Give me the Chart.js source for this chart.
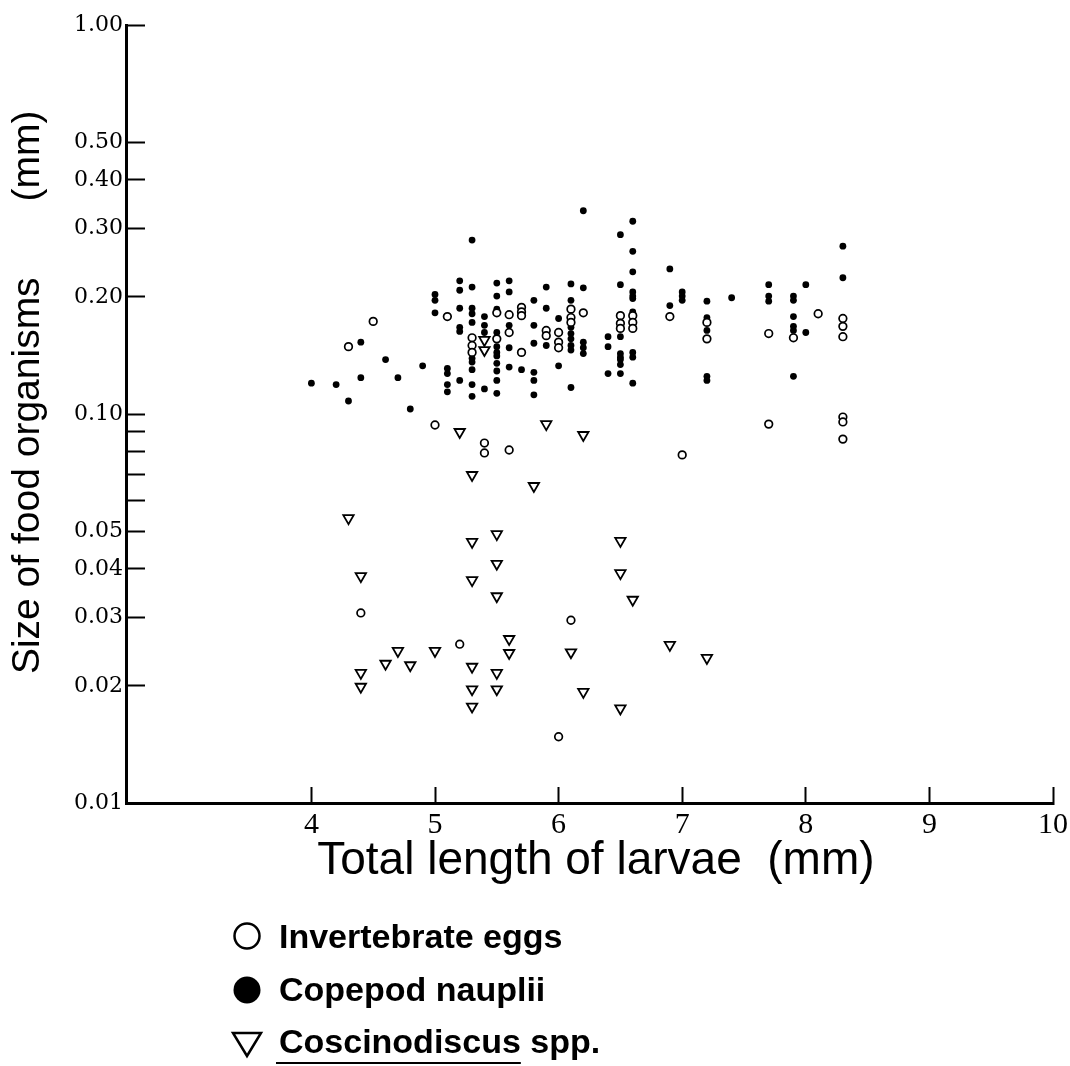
<!DOCTYPE html>
<html>
<head>
<meta charset="utf-8">
<script src="https://cdn.jsdelivr.net/npm/chart.js@4.4.1/dist/chart.umd.min.js"></script>
<style>
	html, body { margin: 0; padding: 0; background: #fff; }
	canvas { display: block; }
</style>
</head>
<body>
<canvas id="food-size-chart" width="1070" height="1066"></canvas>
<script>
/*jshint esversion: 6 */

// x = total length of larvae (mm), y = size of food organism (mm)
const eggsX = [
	4.3, 4.4, 4.5, 5.0, 5.1, 5.2,
	5.3, 5.3, 5.3, 5.4, 5.4, 5.5, 5.5,
	5.6, 5.6, 5.6, 5.7, 5.7, 5.7, 5.7,
	5.9, 5.9, 6.0, 6.0, 6.0, 6.0,
	6.1, 6.1, 6.1, 6.1, 6.2,
	6.5, 6.5, 6.5, 6.6, 6.6, 6.6,
	6.9, 7.0, 7.2, 7.2, 7.7, 7.7, 7.9, 8.1,
	8.3, 8.3, 8.3, 8.3, 8.3, 8.3
];
const eggsY = [
	0.149, 0.0308, 0.173, 0.0937, 0.178, 0.0256,
	0.157, 0.150, 0.144, 0.0842, 0.0794, 0.182, 0.156,
	0.180, 0.162, 0.0808, 0.188, 0.183, 0.179, 0.144,
	0.164, 0.159, 0.162, 0.153, 0.148, 0.0148,
	0.186, 0.177, 0.172, 0.0295, 0.182,
	0.179, 0.171, 0.166, 0.179, 0.172, 0.166,
	0.178, 0.0785, 0.172, 0.156, 0.161, 0.0942, 0.157, 0.181,
	0.176, 0.168, 0.158, 0.0982, 0.0954, 0.0862
];

const naupliiX = [
	4.0, 4.2, 4.3, 4.4, 4.4, 4.6, 4.7, 4.8, 4.9,
	5.0, 5.0, 5.0,
	5.1, 5.1, 5.1, 5.1,
	5.2, 5.2, 5.2, 5.2, 5.2, 5.2,
	5.3, 5.3, 5.3, 5.3, 5.3, 5.3, 5.3, 5.3, 5.3, 5.3,
	5.4, 5.4, 5.4, 5.4,
	5.5, 5.5, 5.5, 5.5, 5.5, 5.5, 5.5, 5.5, 5.5, 5.5, 5.5,
	5.6, 5.6, 5.6, 5.6, 5.6,
	5.7,
	5.8, 5.8, 5.8, 5.8, 5.8, 5.8,
	5.9, 5.9, 5.9,
	6.0, 6.0,
	6.1, 6.1, 6.1, 6.1, 6.1, 6.1, 6.1, 6.1,
	6.2, 6.2, 6.2, 6.2, 6.2,
	6.4, 6.4, 6.4,
	6.5, 6.5, 6.5, 6.5, 6.5, 6.5, 6.5, 6.5,
	6.6, 6.6, 6.6, 6.6, 6.6, 6.6, 6.6, 6.6, 6.6, 6.6,
	6.9, 6.9,
	7.0, 7.0, 7.0,
	7.2, 7.2, 7.2, 7.2, 7.2, 7.2,
	7.4,
	7.7, 7.7, 7.7,
	7.9, 7.9, 7.9, 7.9, 7.9, 7.9,
	8.0, 8.0,
	8.3, 8.3
];
const naupliiY = [
	0.120, 0.119, 0.108, 0.153, 0.124, 0.138, 0.124, 0.103, 0.133,
	0.203, 0.196, 0.182,
	0.131, 0.127, 0.119, 0.114,
	0.220, 0.208, 0.187, 0.167, 0.163, 0.122,
	0.280, 0.212, 0.187, 0.181, 0.172, 0.139, 0.136, 0.130, 0.119, 0.111,
	0.178, 0.169, 0.162, 0.116,
	0.217, 0.201, 0.186, 0.162, 0.149, 0.144, 0.141, 0.135, 0.129, 0.122, 0.113,
	0.220, 0.206, 0.169, 0.148, 0.132,
	0.130,
	0.196, 0.169, 0.152, 0.128, 0.122, 0.112,
	0.212, 0.187, 0.150,
	0.176, 0.133,
	0.216, 0.196, 0.167, 0.161, 0.156, 0.150, 0.146, 0.117,
	0.333, 0.211, 0.153, 0.148, 0.143,
	0.158, 0.149, 0.127,
	0.289, 0.215, 0.158, 0.143, 0.140, 0.138, 0.134, 0.127,
	0.313, 0.262, 0.232, 0.206, 0.201, 0.198, 0.183, 0.144, 0.140, 0.120,
	0.236, 0.190,
	0.206, 0.201, 0.196,
	0.195, 0.177, 0.172, 0.164, 0.125, 0.122,
	0.199,
	0.215, 0.201, 0.195,
	0.201, 0.196, 0.178, 0.168, 0.164, 0.125,
	0.215, 0.162,
	0.270, 0.224
];

const coscX = [
	4.3, 4.4, 4.4, 4.4, 4.6, 4.7, 4.8, 5.0, 5.2,
	5.3, 5.3, 5.3, 5.3, 5.3, 5.3,
	5.4, 5.4,
	5.5, 5.5, 5.5, 5.5, 5.5,
	5.6, 5.6, 5.8, 5.9, 6.1, 6.2, 6.2,
	6.5, 6.5, 6.5, 6.6, 6.9, 7.2
];
const coscY = [
	0.054, 0.0383, 0.0216, 0.0199, 0.0228, 0.0246, 0.0226, 0.0246, 0.0899,
	0.0697, 0.0469, 0.0374, 0.0224, 0.0196, 0.0177,
	0.155, 0.146,
	0.0491, 0.0412, 0.0340, 0.0216, 0.0196,
	0.0264, 0.0243, 0.0653, 0.0942, 0.0244, 0.0883, 0.0193,
	0.0472, 0.0390, 0.0175, 0.0333, 0.0255, 0.0236
];

const seriesLabels = [ 'Invertebrate eggs', 'Copepod nauplii', 'Coscinodiscus spp.' ];

const xTicks = [ 4, 5, 6, 7, 8, 9, 10 ];
const yTicks = [ 0.01, 0.02, 0.03, 0.04, 0.05, 0.06, 0.07, 0.08, 0.09, 0.10, 0.20, 0.30, 0.40, 0.50, 1.00 ];
const yTickLabels = [ '0.01', '0.02', '0.03', '0.04', '0.05', '', '', '', '', '0.10', '0.20', '0.30', '0.40', '0.50', '1.00' ];

const toPoints = ( xs, ys ) => xs.map( ( x, i ) => ( { x: x, y: ys[ i ] } ) );

// legend stacked under the x title, one row per series
const stackedLegend = {
	id: 'stackedLegend',
	afterDraw: ( chart ) => {
		const ctx = chart.ctx;
		const markerX = 247;
		const textX = 279;
		const markerY = [ 936, 990, 1044 ];
		const textY = [ 948, 1001, 1053 ];
		ctx.save();
		ctx.fillStyle = '#000';
		ctx.strokeStyle = '#000';
		ctx.font = 'bold 34px "Liberation Sans", Arial, sans-serif';
		ctx.textAlign = 'left';
		ctx.textBaseline = 'alphabetic';
		chart.data.datasets.forEach( ( ds, i ) => {
			const my = markerY[ i ];
			ctx.beginPath();
			if ( ds.pointStyle === 'triangle' ) {
				ctx.lineWidth = 2.5;
				ctx.moveTo( markerX - 14, my - 11 );
				ctx.lineTo( markerX + 14, my - 11 );
				ctx.lineTo( markerX, my + 12 );
				ctx.closePath();
				ctx.stroke();
			} else if ( ds.pointBackgroundColor === '#000' ) {
				ctx.arc( markerX, my, 13.5, 0, Math.PI * 2 );
				ctx.fill();
			} else {
				ctx.lineWidth = 2.5;
				ctx.arc( markerX, my, 12.5, 0, Math.PI * 2 );
				ctx.stroke();
			}
			ctx.fillText( ds.label, textX, textY[ i ] );
			if ( ds.underlineGenus ) {
				const genus = ds.label.split( ' ' )[0];
				const w = ctx.measureText( genus ).width;
				ctx.beginPath();
				ctx.lineWidth = 2;
				ctx.moveTo( textX - 3, textY[ i ] + 10 );
				ctx.lineTo( textX + w, textY[ i ] + 10 );
				ctx.stroke();
			}
		} );
		ctx.restore();
	}
};

window.onload = () => {
	const ctx = document.getElementById( 'food-size-chart' ).getContext( '2d' );
	const chart = new Chart( ctx, {
		type: 'scatter',
		data: {
			datasets: [
				{
					label: seriesLabels[0],
					data: toPoints( eggsX, eggsY ),
					pointStyle: 'circle',
					pointRadius: 3.8,
					pointBorderWidth: 1.7,
					pointBackgroundColor: '#fff',
					pointBorderColor: '#000',
					order: 1
				},
				{
					label: seriesLabels[1],
					data: toPoints( naupliiX, naupliiY ),
					pointStyle: 'circle',
					pointRadius: 3.4,
					pointBorderWidth: 0,
					pointBackgroundColor: '#000',
					pointBorderColor: '#000',
					order: 2
				},
				{
					label: seriesLabels[2],
					data: toPoints( coscX, coscY ),
					pointStyle: 'triangle',
					pointRotation: 180,
					pointRadius: 6,
					pointBorderWidth: 1.8,
					pointBackgroundColor: '#fff',
					pointBorderColor: '#000',
					underlineGenus: true,
					order: 0
				}
			]
		},
		options: {
			responsive: false,
			animation: false,
			devicePixelRatio: 1,
			events: [],
			layout: { padding: { top: 25, right: 17, bottom: 171, left: 0 } },
			plugins: {
				legend: { display: false },
				tooltip: { enabled: false }
			},
			scales: {
				x: {
					type: 'linear',
					min: 2.5,
					max: 10,
					afterBuildTicks: ( scale ) => {
						scale.ticks = xTicks.map( ( v ) => ( { value: v } ) );
					},
					afterFit: ( scale ) => {
						scale.height = 92;
						scale.paddingLeft = 0;
						scale.paddingRight = 0;
					},
					ticks: {
						autoSkip: false,
						maxRotation: 0,
						padding: 20,
						color: '#000',
						font: { family: '"Liberation Serif", serif', size: 30 }
					},
					grid: { drawOnChartArea: false, drawTicks: true, tickLength: -16, tickWidth: 2, tickColor: '#000' },
					border: { display: true, color: '#000', width: 3 },
					title: {
						display: true,
						text: ' Total length of larvae  (mm)',
						color: '#000',
						font: { family: '"Liberation Sans", Arial, sans-serif', size: 46 },
						padding: { top: 0, bottom: 6 }
					}
				},
				y: {
					type: 'logarithmic',
					min: 0.01,
					max: 1,
					afterBuildTicks: ( scale ) => {
						scale.ticks = yTicks.map( ( v ) => ( { value: v } ) );
					},
					afterFit: ( scale ) => {
						scale.width = 126;
						scale.paddingTop = 0;
						scale.paddingBottom = 0;
					},
					ticks: {
						autoSkip: false,
						padding: 22,
						color: '#000',
						font: { family: '"DejaVu Serif", serif', size: 22 },
						callback: ( value ) => {
							const idx = yTicks.indexOf( value );
							return idx >= 0 ? yTickLabels[ idx ] : '';
						}
					},
					grid: { drawOnChartArea: false, drawTicks: true, tickLength: -19, tickWidth: 2, tickColor: '#000' },
					border: { display: true, color: '#000', width: 3 },
					title: {
						display: true,
						text: '    Size of food organisms       (mm)',
						color: '#000',
						font: { family: '"Liberation Sans", Arial, sans-serif', size: 39 },
						padding: { top: 5, bottom: 0 }
					}
				}
			}
		},
		plugins: [ stackedLegend ]
	} );
};
</script>
</body>
</html>
